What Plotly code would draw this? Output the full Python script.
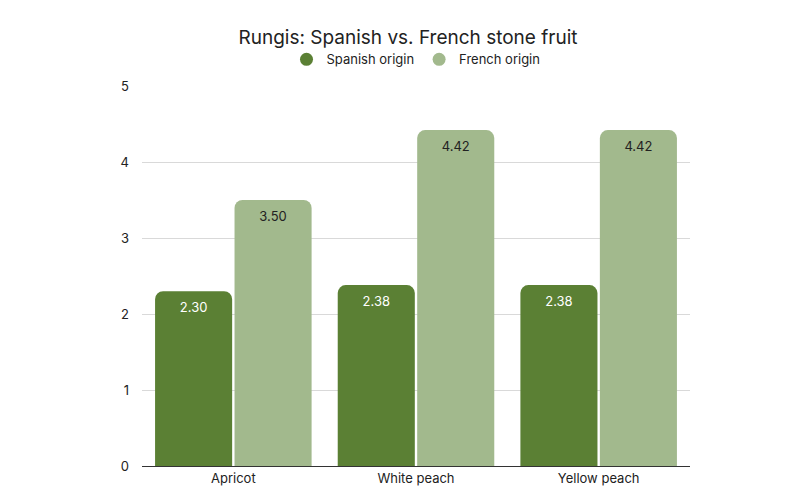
import plotly.graph_objects as go

fruits = ["Apricot", "White peach", "Yellow peach"]
spanish = [2.30, 2.38, 2.38]
french = [3.50, 4.42, 4.42]
series_names = ["Spanish origin", "French origin"]
colors = ["#5b8034", "#a2b98d"]

fig = go.Figure()
fig.add_trace(go.Bar(x=fruits, y=spanish, name=series_names[0], marker_color=colors[0],
                     text=[f"{v:.2f}" for v in spanish], textposition="inside", showlegend=False,
                     insidetextanchor="end", textfont=dict(color="white", size=13)))
fig.add_trace(go.Bar(x=fruits, y=french, name=series_names[1], marker_color=colors[1],
                     text=[f"{v:.2f}" for v in french], textposition="inside", showlegend=False,
                     insidetextanchor="end", textfont=dict(color="#222222", size=13)))
# circle legend markers
for name, c in zip(series_names, colors):
    fig.add_trace(go.Scatter(x=[None], y=[None], mode="markers", name=name,
                             marker=dict(color=c, size=13, symbol="circle")))

fig.update_traces(marker_line_width=0, selector=dict(type="bar"))
fig.update_layout(
    width=800, height=500,
    font=dict(family="Inter", color="#222222", size=13),
    title=dict(text="Rungis: Spanish vs. French stone fruit", x=0.5, xanchor="center",
               y=0.955, font=dict(size=19)),
    legend=dict(orientation="h", x=0.5, xanchor="center", y=1.07, yanchor="middle",
                font=dict(size=13)),
    barmode="group", bargap=0.13, bargroupgap=0.03, barcornerradius=8,
    plot_bgcolor="white", paper_bgcolor="white",
    margin=dict(l=134, r=118, t=78, b=42),
    uniformtext=dict(mode="show", minsize=12),
)
fig.update_yaxes(range=[0, 5], dtick=1, gridcolor="#d9d9d9", zeroline=False,
                 ticklabelstandoff=12, tickfont=dict(size=13))
fig.update_xaxes(showline=True, linecolor="#333333", linewidth=1, tickfont=dict(size=13))
fig.write_html("out.html")
